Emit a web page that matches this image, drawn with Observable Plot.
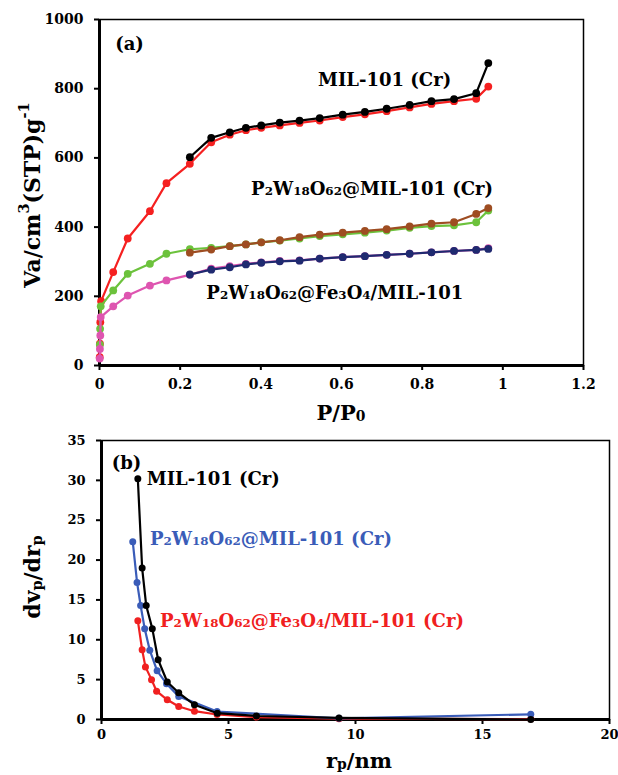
<!DOCTYPE html>
<html><head><meta charset="utf-8">
<script src="https://cdn.jsdelivr.net/npm/d3@7"></script>
<script src="https://cdn.jsdelivr.net/npm/@observablehq/plot@0.6"></script>
<style>body{margin:0;background:#fff} svg{display:block}</style>
</head><body><div id="chart"></div>
<script>
// ---------- Panel (a): N2 isotherms ----------
const pMid = [0.034, 0.07, 0.125, 0.166];
const pHigh = [0.224,0.277,0.323,0.363,0.401,0.447,0.496,0.546,0.603,0.658,0.712,0.769,0.823,0.879,0.934,0.964];
const pLowMIL = [0.0005, 0.001, 0.002, 0.004];
const pLowPW = [0.0008, 0.0015, 0.003];
const pLowFe = [0.0005, 0.001, 0.002, 0.003];

const adsMIL = [24,63,125,186, 270,367,446,527, 583,645,667,680,687,694,701,708,718,726,735,746,756,764,771,806];
const desMIL = [602,658,674,687,694,702,708,715,725,733,742,753,764,770,787,874];
const adsPW = [60,106,171, 217,265,294,323, 336,340,345,350,356,361,367,374,379,384,390,398,403,405,414,448];
const desPW = [326,335,345,350,356,362,371,378,384,389,394,402,410,414,438,455];
const adsFe = [20,48,87,140, 171,202,231,246, 262,280,287,294,298,302,304,309,313,316,320,323,327,331,334,339];
const desFe = [263,277,284,292,297,301,303,309,313,316,320,323,327,331,334,337];

const xTicksA = [0,0.2,0.4,0.6,0.8,1,1.2];
const yTicksA = [0,200,400,600,800,1000];

// ---------- Panel (b): pore size distribution ----------
const rMIL = [1.43,1.60,1.76,2.0,2.23,2.59,3.04,3.66,4.56,6.1,9.35,16.9];
const vMIL = [30.2,19.0,14.3,11.4,7.5,4.7,3.35,1.84,0.79,0.44,0.2,0.0];
const rPW = [1.23,1.40,1.54,1.70,1.90,2.19,2.56,3.04,4.55,9.35,16.9];
const vPW = [22.3,17.2,14.3,11.4,8.7,6.1,4.5,2.9,1.0,0.15,0.65];
const rFe = [1.43,1.60,1.73,1.97,2.17,2.59,3.04,3.66,4.55,6.1,9.35,16.9];
const vFe = [12.4,8.75,6.6,5.0,3.55,2.47,1.63,1.04,0.63,0.3,0.1,0.05];

const xTicksB = [0,5,10,15,20];
const yTicksB = [0,5,10,15,20,25,30,35];

const zip = (xs, ys) => xs.map((x, i) => ({x, y: ys[i]}));
const FONT = "DejaVu Serif";

function series(data, color, r = 3.9) {
  return [
    Plot.line(data, {x: "x", y: "y", stroke: color, strokeWidth: 2.2}),
    Plot.dot(data, {x: "x", y: "y", fill: color, r})
  ];
}

function parseRich(s) {
  const parts = []; const re = /([_^])\{([^}]*)\}/g; let last = 0, m;
  while ((m = re.exec(s))) {
    if (m.index > last) parts.push({t: s.slice(last, m.index), k: ""});
    parts.push({t: m[2], k: m[1]}); last = re.lastIndex;
  }
  if (last < s.length) parts.push({t: s.slice(last), k: ""});
  return parts;
}

function richText(svg, str, px, py, {size = 18, color = "#000", anchor = "start", rotate = 0} = {}) {
  const t = d3.select(svg).append("text")
    .attr("transform", `translate(${px},${py}) rotate(${rotate})`)
    .attr("text-anchor", anchor)
    .attr("dominant-baseline", "central")
    .attr("font-family", FONT).attr("font-weight", "bold")
    .attr("font-size", size).attr("fill", color);
  let cur = 0;
  for (const p of parseRich(str)) {
    const target = p.k === "_" ? 0.18 * size : p.k === "^" ? -0.42 * size : 0;
    t.append("tspan").attr("dy", target - cur)
      .attr("font-size", p.k ? size * 0.66 : size).text(p.t);
    cur = target;
  }
}

const fmtA = d => String(+d.toFixed(1));

const plotA = Plot.plot({
  width: 618, height: 430,
  marginLeft: 99, marginRight: 35, marginTop: 19, marginBottom: 65,
  style: {fontFamily: FONT, fontWeight: "bold", fontSize: "14px", color: "#000", background: "#fff"},
  x: {domain: [0, 1.2]},
  y: {domain: [0, 1000]},
  marks: [
    Plot.frame({stroke: "#000", strokeWidth: 1.5}),
    Plot.axisX({ticks: xTicksA, tickFormat: fmtA, tickSize: 5, tickPadding: 9, label: null, strokeWidth: 2}),
    Plot.axisY({ticks: yTicksA, tickFormat: d => String(d), tickSize: 5, tickPadding: 11, label: null, strokeWidth: 2}),
    Plot.ruleX([0], {strokeWidth: 3}),
    Plot.ruleY([0], {strokeWidth: 3}),
    ...series(zip([...pLowMIL, ...pMid, ...pHigh], adsMIL), "#f52020"),
    ...series(zip(pHigh, desMIL), "#000000"),
    ...series(zip([...pLowPW, ...pMid, ...pHigh], adsPW), "#6cc23c"),
    ...series(zip(pHigh, desPW), "#9e4d22"),
    ...series(zip([...pLowFe, ...pMid, ...pHigh], adsFe), "#de55b0"),
    ...series(zip(pHigh, desFe), "#1f2a70")
  ]
});

const plotB = Plot.plot({
  width: 618, height: 345,
  marginLeft: 101, marginRight: 9, marginTop: 10, marginBottom: 56,
  style: {fontFamily: FONT, fontWeight: "bold", fontSize: "13px", color: "#000", background: "#fff"},
  x: {domain: [0, 20]},
  y: {domain: [0, 35]},
  marks: [
    Plot.frame({stroke: "#000", strokeWidth: 1.5}),
    Plot.axisX({ticks: xTicksB, tickSize: 5, tickPadding: 5, label: null, strokeWidth: 2}),
    Plot.axisY({ticks: yTicksB, tickSize: 5, tickPadding: 11, label: null, strokeWidth: 2}),
    Plot.ruleX([0], {strokeWidth: 3}),
    Plot.ruleY([0], {strokeWidth: 3}),
    ...series(zip(rFe, vFe), "#f02020", 3.5),
    ...series(zip(rPW, vPW), "#3a5cb8", 3.5),
    ...series(zip(rMIL, vMIL), "#000000", 3.5)
  ]
});

const chart = document.getElementById("chart");
chart.append(plotA, plotB);

// annotations (data coordinates through the plots' own scales)
const annA = [
  {s: "(a)", x: 0.04, y: 930, c: "#000", a: "start"},
  {s: "MIL-101 (Cr)", x: 0.543, y: 827, c: "#000", a: "start"},
  {s: "P_{2}W_{18}O_{62}@MIL-101 (Cr)", x: 0.977, y: 512, c: "#000", a: "end"},
  {s: "P_{2}W_{18}O_{62}@Fe_{3}O_{4}/MIL-101", x: 0.903, y: 211, c: "#000", a: "end"}
];
const annB = [
  {s: "(b)", x: 0.42, y: 32.3, c: "#000", a: "start"},
  {s: "MIL-101 (Cr)", x: 1.8, y: 30.2, c: "#000", a: "start"},
  {s: "P_{2}W_{18}O_{62}@MIL-101 (Cr)", x: 1.93, y: 22.7, c: "#3a5cb8", a: "start"},
  {s: "P_{2}W_{18}O_{62}@Fe_{3}O_{4}/MIL-101 (Cr)", x: 2.32, y: 12.4, c: "#f02020", a: "start"}
];
for (const [p, ann] of [[plotA, annA], [plotB, annB]]) {
  const sx = p.scale("x"), sy = p.scale("y");
  for (const d of ann) richText(p, d.s, sx.apply(d.x), sy.apply(d.y), {size: 18, color: d.c, anchor: d.a});
}
// axis titles
richText(plotA, "P/P_{0}", 341, 412, {size: 21, anchor: "middle"});
richText(plotA, "Va/cm^{3}(STP)g^{-1}", 32, 195, {size: 22, anchor: "middle", rotate: -90});
richText(plotB, "r_{p}/nm", 359, 330, {size: 21, anchor: "middle"});
richText(plotB, "dv_{p}/dr_{p}", 32, 147, {size: 22, anchor: "middle", rotate: -90});
</script>
</body></html>
